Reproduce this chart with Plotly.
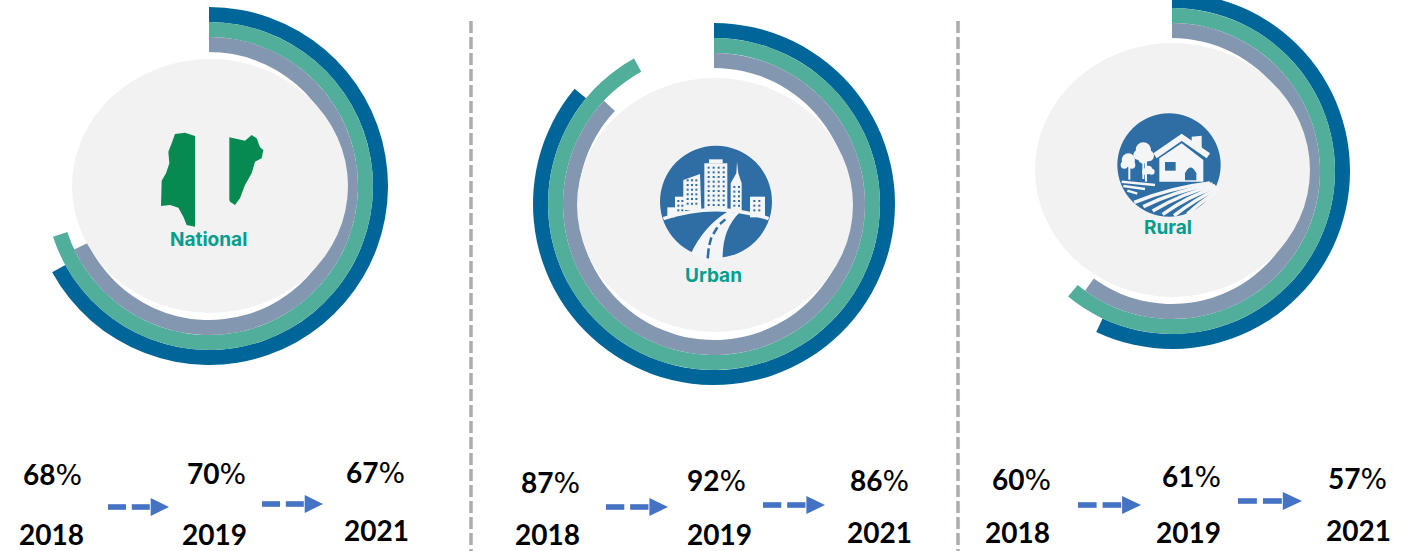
import plotly.graph_objects as go

# ---------- data ----------
years = ["2018", "2019", "2021"]
regions = ["National", "Urban", "Rural"]
national = [68, 70, 67]
urban = [87, 92, 86]
rural = [60, 61, 57]
ring_colors = {"2021": "#006699", "2019": "#50AE9B", "2018": "#8497B0"}
ring_order = ["2021", "2019", "2018"]

# ---------- page layout ----------
W, PAGE_H, OFF = 1409, 551, 7
H = PAGE_H + OFF
RING = 15


def px(x):
    return x / W


def py(y):
    return 1 - (y + OFF) / H


fig = go.Figure()
shapes = []
annots = []


def rect(x0, y0, x1, y1, color, layer="above"):
    shapes.append(dict(type="rect", xref="paper", yref="paper", x0=px(x0), x1=px(x1),
                       y0=py(y0), y1=py(y1), fillcolor=color, line_width=0, layer=layer))


def ellipse(x0, y0, x1, y1, color):
    shapes.append(dict(type="circle", xref="paper", yref="paper", x0=px(x0), x1=px(x1),
                       y0=py(y0), y1=py(y1), fillcolor=color, line_width=0, layer="above"))


def path(cmds, fill=None, stroke=None, width=0):
    """cmds: list of (letter, x, y, ...) in page pixels."""
    out = []
    for c in cmds:
        if len(c) == 1:
            out.append(c[0])
            continue
        pts = c[1:]
        s = " ".join(f"{px(pts[i]):.5f},{py(pts[i+1]):.5f}" for i in range(0, len(pts), 2))
        out.append(f"{c[0]} {s}")
    shapes.append(dict(type="path", xref="paper", yref="paper", path=" ".join(out),
                       fillcolor=fill if fill else "rgba(0,0,0,0)",
                       line=dict(color=stroke if stroke else "rgba(0,0,0,0)", width=width),
                       layer="above"))


def poly(points, fill, ox=0, oy=0, k=1 / 3):
    cmds = []
    for i, (x, y) in enumerate(points):
        cmds.append(("M" if i == 0 else "L", ox + x * k, oy + y * k))
    cmds.append(("Z",))
    path(cmds, fill=fill)


def text(x, y, s, size=28, color="#000000", bold=False, family="Lato, sans-serif"):
    annots.append(dict(xref="paper", yref="paper", x=px(x), y=py(y), text=s, showarrow=False,
                       xanchor="center", yanchor="middle",
                       font=dict(family=family, size=size, color=color,
                                 weight=700 if bold else 400)))


def rings(values, cx, cy, R):
    for k, yr in enumerate(ring_order):
        outer = R - k * RING
        v = values[years.index(yr)]
        fig.add_trace(go.Pie(
            values=[v, 100 - v], labels=[f"{yr}", "rest"], sort=False, direction="clockwise",
            rotation=0, hole=(outer - RING) / outer, textinfo="none", hoverinfo="skip",
            showlegend=False,
            marker=dict(colors=[ring_colors[yr], "rgba(0,0,0,0)"], line=dict(width=0)),
            domain=dict(x=[px(cx - outer), px(cx + outer)],
                        y=[py(cy + outer), py(cy - outer)]),
        ))


def arrow(x0, x1, y):
    w = x1 - x0
    c = "#4472C4"
    rect(x0, y - 2.8, x0 + w * 0.295, y + 2.8, c)
    rect(x0 + w * 0.39, y - 2.8, x0 + w * 0.685, y + 2.8, c)
    path([("M", x0 + w * 0.70, y - 9), ("L", x1, y), ("L", x0 + w * 0.70, y + 9), ("Z",)], fill=c)


def pct(v):
    return f"<b>{v}</b><span style=\"font-family:'DejaVu Sans'\">%</span>"


# ---------- rings and discs ----------
rings(national, 209, 186, 179)
rings(urban, 714, 204, 181)
rings(rural, 1172, 171, 178)
ellipse(72, 59, 348, 313, "#F2F2F2")
ellipse(577, 78, 853, 332, "#F2F2F2")
ellipse(1035, 43, 1310, 297, "#F2F2F2")

# ---------- separators ----------
for sx in (471, 958):
    shapes.append(dict(type="line", xref="paper", yref="paper", x0=px(sx), x1=px(sx),
                       y0=py(21), y1=py(551), line=dict(color="#AFABAB", width=3.5, dash="12px,4px"),
                       layer="above"))

# ---------- Nigeria map icon ----------
GREEN = "#078A52"
poly([(195, 78), (165, 68), (135, 72), (125, 100), (115, 125), (118, 160), (108, 190), (95, 212),
      (93, 288), (120, 285), (145, 293), (160, 320), (170, 345), (195, 350)], GREEN, 130, 110)
poly([(298, 82), (345, 92), (365, 75), (380, 85), (390, 112), (400, 120), (395, 145), (375, 155),
      (365, 190), (345, 225), (330, 265), (315, 285), (300, 275), (298, 270)], GREEN, 130, 110)

# ---------- city icon ----------
BLUE = "#2F6DA5"
OX, OY = 640, 130


def ur(x0, y0, x1, y1, c):
    rect(OX + x0 / 3, OY + y0 / 3, OX + x1 / 3, OY + y1 / 3, c)


ellipse(OX + 60 / 3, OY + 47 / 3, OX + 396 / 3, OY + 383 / 3, BLUE)
WHITE = "#F4F5F6"
poly([(130, 150), (180, 132), (184, 240), (130, 240)], WHITE, OX, OY)
ur(105, 200, 135, 255, WHITE)
ur(82, 232, 105, 262, WHITE)
ur(193, 100, 262, 240, WHITE)
ur(207, 88, 248, 100, WHITE)
poly([(272, 160), (289, 130), (291, 95), (295, 130), (305, 160), (305, 245), (272, 245)], WHITE, OX, OY)
ur(330, 200, 375, 262, WHITE)
for gy0, gy1, xs in [
    (110, 228, (203, 218, 233, 248)),
    (148, 232, (140, 153, 166)),
    (210, 248, (112, 124)),
    (168, 236, (280, 294)),
    (210, 252, (340, 355)),
]:
    for x in xs:
        y = gy0
        while y < gy1:
            ur(x, y, x + 6, y + 6, BLUE)
            y += 14
path([("M", OX + 70 / 3, OY + 266 / 3), ("Q", OX + 228 / 3, OY + 212 / 3, OX + 386 / 3, OY + 266 / 3)],
     stroke=WHITE, width=3.5)
path([("M", OX + 152 / 3, OY + 372 / 3), ("Q", OX + 190 / 3, OY + 290 / 3, OX + 262 / 3, OY + 245 / 3),
      ("L", OX + 298 / 3, OY + 248 / 3), ("Q", OX + 245 / 3, OY + 300 / 3, OX + 248 / 3, OY + 392 / 3),
      ("L", OX + 200 / 3, OY + 395 / 3), ("Z",)], fill=WHITE)
for (a, b, c, d) in [(203, 385, 206, 355), (208, 345, 214, 322), (220, 312, 232, 292), (240, 282, 256, 268)]:
    path([("M", OX + a / 3, OY + b / 3), ("L", OX + c / 3, OY + d / 3)], stroke=BLUE, width=2.5)

# ---------- farm icon ----------
OX2, OY2 = 1100, 105
ellipse(OX2 + 52 / 3, OY2 + 25 / 3, OX2 + 362 / 3, OY2 + 335 / 3, BLUE)
poly([(178, 160), (245, 115), (310, 165), (310, 230), (178, 230)], WHITE, OX2, OY2)
poly([(275, 95), (305, 92), (305, 135), (275, 115)], WHITE, OX2, OY2)
path([("M", OX2 + 165 / 3, OY2 + 152 / 3), ("L", OX2 + 245 / 3, OY2 + 97 / 3), ("L", OX2 + 325 / 3, OY2 + 152 / 3)],
     stroke=WHITE, width=6)
poly([(195, 171), (227, 171), (227, 197), (195, 197)], BLUE, OX2, OY2)
path([("M", OX2 + 255 / 3, OY2 + 226 / 3), ("L", OX2 + 255 / 3, OY2 + 205 / 3),
      ("Q", OX2 + 272 / 3, OY2 + 170 / 3, OX2 + 289 / 3, OY2 + 205 / 3), ("L", OX2 + 289 / 3, OY2 + 226 / 3), ("Z",)],
     fill=BLUE)
for (tx, base) in [(130, 222), (88, 224), (138, 230)]:
    path([("M", OX2 + tx / 3, OY2 + 150 / 3), ("L", OX2 + tx / 3, OY2 + base / 3)], stroke=WHITE, width=2)
for (tx, ty, r) in [(130, 135, 23), (115, 150, 15), (145, 152, 17), (130, 160, 16),
                    (85, 165, 20), (73, 180, 11), (95, 180, 11),
                    (145, 195, 13), (135, 200, 9), (155, 200, 9)]:
    ellipse(OX2 + (tx - r) / 3, OY2 + (ty - r) / 3, OX2 + (tx + r) / 3, OY2 + (ty + r) / 3, WHITE)
for (a, b, c, d, e, f) in [
    (103, 292, 210, 248, 330, 234),
    (130, 305, 225, 258, 338, 237),
    (158, 318, 245, 265, 345, 241),
    (188, 328, 265, 273, 350, 246),
    (222, 332, 285, 283, 352, 252),
    (262, 327, 305, 288, 350, 260),
]:
    path([("M", OX2 + a / 3, OY2 + b / 3), ("Q", OX2 + c / 3, OY2 + d / 3, OX2 + e / 3, OY2 + f / 3)],
         stroke=WHITE, width=3.5)
for (a, b, c, d) in [(65, 230, 165, 240), (70, 243, 135, 252), (82, 257, 112, 266)]:
    path([("M", OX2 + a / 3, OY2 + b / 3), ("L", OX2 + c / 3, OY2 + d / 3)], stroke=WHITE, width=2.5)

# ---------- labels ----------
TEAL = "#009E8E"
LABEL_FONT = "Inter, sans-serif"
text(208, 239, regions[0], size=19, color=TEAL, bold=True, family=LABEL_FONT)
text(713, 275, regions[1], size=19, color=TEAL, bold=True, family=LABEL_FONT)
text(1168, 228, regions[2], size=19, color=TEAL, bold=True, family=LABEL_FONT)

for vals, pct_pos, yr_pos, arrows in [
    (national, [(53, 474), (216, 473), (375, 472)], [(51, 534), (214, 534), (376, 530)],
     [(108, 169, 507), (262, 323, 504)]),
    (urban, [(550, 482), (717, 480), (879, 480)], [(547, 534), (719, 534), (880, 532)],
     [(606, 668, 507), (763, 825, 505)]),
    (rural, [(1021, 479), (1191, 476), (1357, 478)], [(1018, 532), (1188, 532), (1358, 530)],
     [(1078, 1141, 505), (1238, 1302, 501)]),
]:
    for v, (x, y) in zip(vals, pct_pos):
        text(x, y, pct(v))
    for yr, (x, y) in zip(years, yr_pos):
        text(x, y, yr, bold=True)
    for a in arrows:
        arrow(*a)

fig.update_layout(width=W, height=H, autosize=False, margin=dict(l=0, r=0, t=0, b=0),
                  paper_bgcolor="#FFFFFF", plot_bgcolor="#FFFFFF", showlegend=False,
                  shapes=shapes, annotations=annots)

# The top of the Rural ring runs past the page edge: raise the figure so it is cut off there.
post = f"""
document.documentElement.style.overflow='hidden';
document.body.style.margin='0';
document.body.style.overflow='hidden';
document.body.style.height='{PAGE_H}px';
var g=document.getElementById('{{plot_id}}');
g.style.marginTop='-{OFF}px';
"""
fig.write_html("out.html", post_script=post, config={"displayModeBar": False})
